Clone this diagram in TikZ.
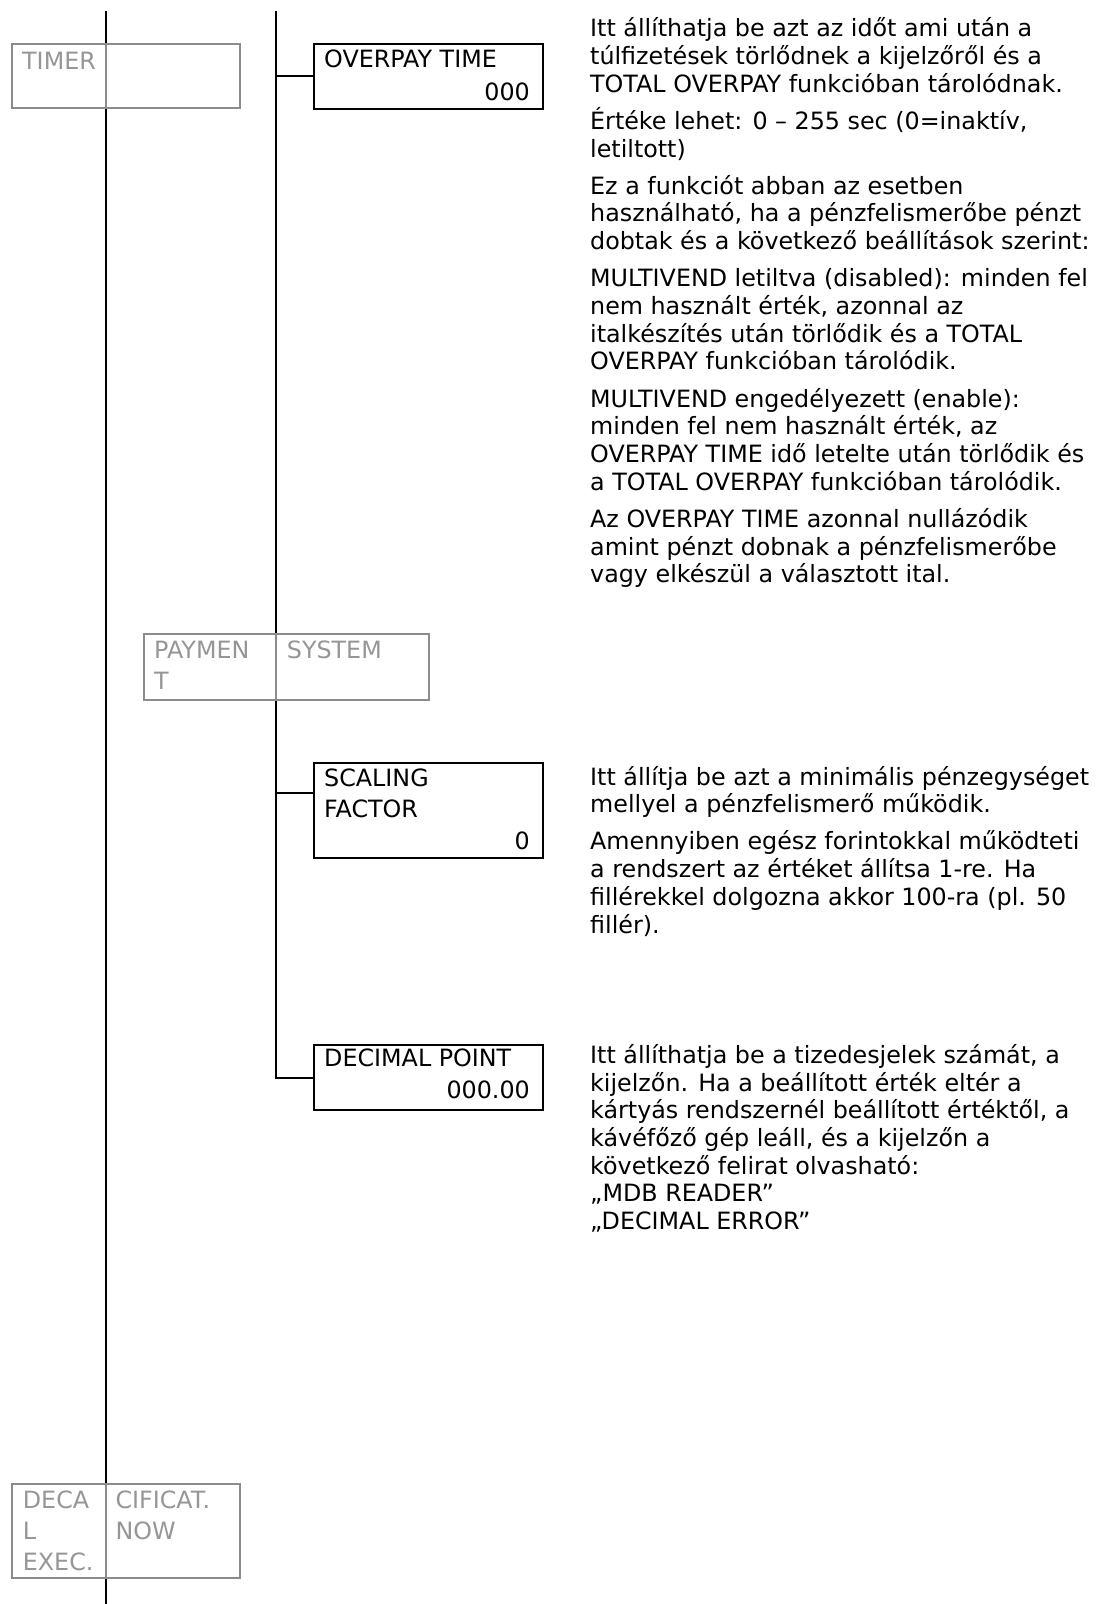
\documentclass[tikz,border=0pt]{standalone}
\usepackage{fontspec}
\setmainfont{DejaVu Sans}
\definecolor{boxgray}{RGB}{140,140,140}
\definecolor{labelgray}{RGB}{150,150,150}
\tikzset{
  trunk/.style={line width=2pt},
  menubox/.style={draw=boxgray, fill=white, line width=2pt, inner sep=0pt, anchor=north west},
  menurule/.style={draw=boxgray, line width=2pt},
  valuebox/.style={draw, line width=2pt, inner sep=0pt, anchor=north west},
  menulabel/.style={text=labelgray, inner sep=0pt, anchor=base west, align=left, font=\fontsize{23.8}{31}\selectfont},
  fieldlabel/.style={inner sep=0pt, anchor=base west, align=left, font=\fontsize{23.8}{31}\selectfont},
  fieldvalue/.style={inner sep=0pt, anchor=base east},
  helptext/.style={inner sep=0pt, anchor=base west, align=left},
}
\begin{document}
\begin{tikzpicture}[x=1pt, y=-1pt, font=\fontsize{23.8}{27.7}\selectfont]
\useasboundingbox (0,0) rectangle (1096,1604);
% value boxes
\node[valuebox, minimum width=229, minimum height=65] (ovp) at (313,42.7) {};
\node[valuebox, minimum width=229, minimum height=95] (sf) at (313,762) {};
\node[valuebox, minimum width=229, minimum height=65] (dec) at (313,1044) {};
% trunks and branches
\coordinate (top1) at (106,11);
\coordinate (bot1) at (106,1604);
\coordinate (top2) at (276,11);
\coordinate (sfjoin) at (313,793);
\draw[trunk] (top1) -- (bot1);
\draw[trunk] (top2) |- (dec.west);
\draw[trunk] (ovp.west) -- (ovp.west -| top2);
\draw[trunk] (sfjoin) -- (sfjoin -| top2);
% menu boxes (multi-line nodes sit on their last baseline)
\node[menubox, minimum width=228, minimum height=64.6] (timer) at (11,42.7) {};
\draw[menurule] (timer.north -| top1) -- (timer.south -| top1);
\node[menulabel] (timerlbl) at (22,69.3) {TIMER};
\node[menubox, minimum width=284.4, minimum height=65.4] (pay) at (143.3,633.3) {};
\draw[menurule] (pay.north -| top2) -- (pay.south -| top2);
\node[menulabel] (paylbl) at (154,689) {PAYMEN\\T};
\node[menulabel] (syslbl) at (286.7,658) {SYSTEM};
\node[menubox, minimum width=228, minimum height=94.6] (decal) at (10.7,1482.7) {};
\draw[menurule] (decal.north -| top1) -- (decal.south -| top1);
\node[menulabel] (decallbl) at (22.7,1570.3) {DECA\\L\\EXEC.};
\node[menulabel] (certlbl) at (115.3,1539.3) {CIFICAT.\\NOW};
% field texts
\node[fieldlabel] (ovpname) at (324,67.7) {OVERPAY TIME};
\node[fieldvalue] (ovpval) at (530,100) {000};
\node[fieldlabel] (sfname) at (324,817) {SCALING\\FACTOR};
\node[fieldvalue] (sfval) at (530,849) {0};
\node[fieldlabel] (decname) at (324,1066.7) {DECIMAL POINT};
\node[fieldvalue] (decval) at (530,1098.3) {000.00};
% help texts
\node[helptext] (ovphelp) at (590,582.8) {Itt állíthatja be azt az időt ami után a\\
  túlfizetések törlődnek a kijelzőről és a\\
  TOTAL OVERPAY funkcióban tárolódnak.\\[9.5pt]
  Értéke lehet: 0 – 255 sec (0=inaktív,\\
  letiltott)\\[9.5pt]
  Ez a funkciót abban az esetben\\
  használható, ha a pénzfelismerőbe pénzt\\
  dobtak és a következő beállítások szerint:\\[9.5pt]
  MULTIVEND letiltva (disabled): minden fel\\
  nem használt érték, azonnal az\\
  italkészítés után törlődik és a TOTAL\\
  OVERPAY funkcióban tárolódik.\\[9.5pt]
  MULTIVEND engedélyezett (enable):\\
  minden fel nem használt érték, az\\
  OVERPAY TIME idő letelte után törlődik és\\
  a TOTAL OVERPAY funkcióban tárolódik.\\[9.5pt]
  Az OVERPAY TIME azonnal nullázódik\\
  amint pénzt dobnak a pénzfelismerőbe\\
  vagy elkészül a választott ital.};
\node[helptext] (sfhelp) at (590,933) {Itt állítja be azt a minimális pénzegységet\\
  mellyel a pénzfelismerő működik.\\[9.5pt]
  Amennyiben egész forintokkal működteti\\
  a rendszert az értéket állítsa 1-re. Ha\\
  fillérekkel dolgozna akkor 100-ra (pl. 50\\
  fillér).};
\node[helptext] (dechelp) at (590,1229.5) {Itt állíthatja be a tizedesjelek számát, a\\
  kijelzőn. Ha a beállított érték eltér a\\
  kártyás rendszernél beállított értéktől, a\\
  kávéfőző gép leáll, és a kijelzőn a\\
  következő felirat olvasható:\\
  „MDB READER”\\
  „DECIMAL ERROR”};
\end{tikzpicture}
\end{document}
